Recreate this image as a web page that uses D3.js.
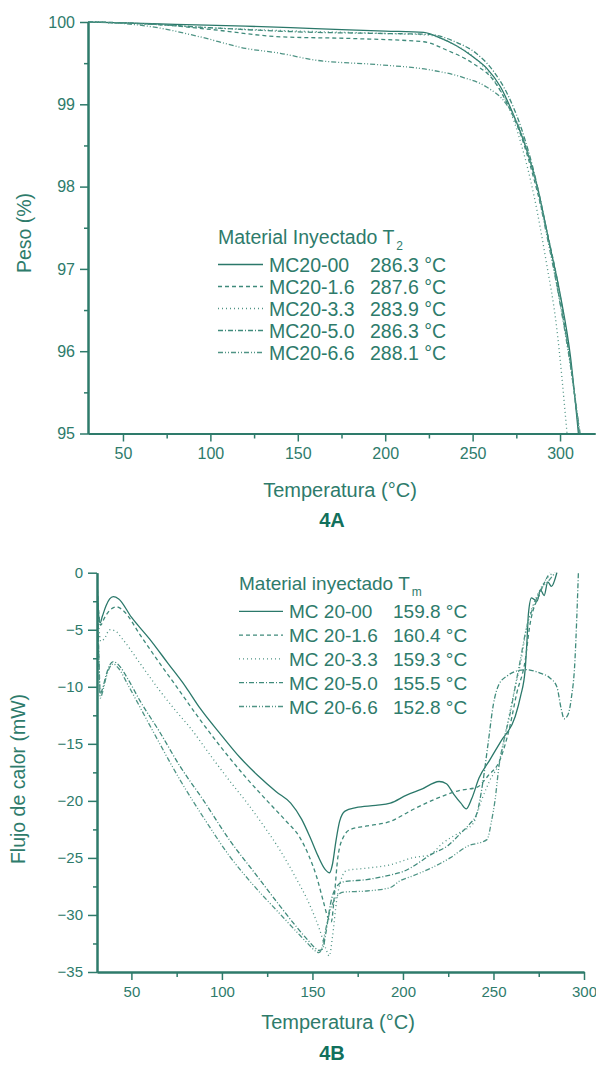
<!DOCTYPE html>
<meta charset="utf-8">
<title>Figura 4A / 4B</title>
<script src="https://d3js.org/d3.v7.min.js"></script>
<style>
	body {
		margin: 0;
		background: #fff;
		font-family: "Liberation Sans", Arial, sans-serif;
	}
	.axis path, .axis line {
		stroke: #2e7b6b;
	}
	.axis path { stroke-width: 2; }
	.axis line { stroke-width: 1.5; }
	.axis text {
		fill: #2e7b6b;
		font-family: "Liberation Sans", Arial, sans-serif;
	}
	.lbl { fill: #2e7b6b; }
	.fig { fill: #11705c; font-weight: bold; }
</style>
<svg id="fig" width="596" height="1066"></svg>
<script>

// ---- 4A : TGA, peso (%) vs temperatura ----
var tgaNames = ["MC20-00", "MC20-1.6", "MC20-3.3", "MC20-5.0", "MC20-6.6"];
var tgaT2 = ["286.3 °C", "287.6 °C", "283.9 °C", "286.3 °C", "288.1 °C"];
var tgaYTicks = [95, 96, 97, 98, 99, 100];
var tgaXTicks = [50, 100, 150, 200, 250, 300];

var tga00 = [[30,100],[50,99.99],[80,99.97],[120,99.95],[160,99.92],[200,99.89],[222,99.875],[232,99.80],[240,99.72],[250,99.58],[258,99.44],[266,99.21],[273,98.89],[281,98.44],[287,98.0],[294,97.3],[300,96.7],[306,95.93],[310.5,95.0]];
var tga16 = [[30,100],[50,99.99],[70,99.97],[100,99.91],[140,99.82],[180,99.80],[222,99.76],[235,99.66],[250,99.50],[262,99.29],[270,99.0],[278,98.6],[285,98.1],[292,97.5],[299,96.8],[305,96.0],[311,95.0]];
var tga33 = [[30,100],[60,99.98],[100,99.93],[150,99.89],[200,99.86],[225,99.84],[240,99.72],[252,99.55],[262,99.3],[270,99.0],[278,98.5],[285,97.9],[292,97.1],[298,96.3],[304,95.0]];
var tga50 = [[30,100],[60,99.98],[100,99.93],[150,99.88],[200,99.86],[225,99.85],[240,99.76],[252,99.62],[262,99.40],[270,99.12],[278,98.7],[286,98.1],[293,97.4],[300,96.6],[306,95.85],[311,95.0]];
var tga66 = [[30,100],[45,99.99],[70,99.93],[94,99.82],[120,99.68],[140,99.62],[159,99.54],[197,99.48],[225,99.42],[244,99.33],[258,99.21],[269,99.01],[277,98.7],[285,98.15],[292,97.45],[299,96.7],[305,95.95],[311.5,95.0]];

// ---- 4B : DSC, flujo de calor (mW) vs temperatura ----
var dscNames = ["MC 20-00", "MC 20-1.6", "MC 20-3.3", "MC 20-5.0", "MC 20-6.6"];
var dscTm = ["159.8 °C", "160.4 °C", "159.3 °C", "155.5 °C", "152.8 °C"];
var dscYTicks = [-35, -30, -25, -20, -15, -10, -5, 0];
var dscXTicks = [50, 100, 150, 200, 250, 300];

var dsc00 = [[31,-0.5],[31.8,-3.5],[32.7,-4.4],[34,-3.8],[36,-2.9],[38,-2.3],[40,-2.1],[43,-2.3],[50,-3.9],[60,-5.8],[70,-7.9],[80,-10.0],[88,-11.9],[100,-14.3],[110,-16.2],[120,-17.8],[130,-19.2],[138,-20.2],[144,-21.6],[149,-23.3],[153,-24.8],[157,-26.0],[159.5,-26.3],[161,-25.6],[163,-23.5],[165,-21.8],[168,-20.9],[174,-20.6],[185,-20.4],[193,-20.2],[202,-19.5],[210,-19.0],[220,-18.3],[224,-18.5],[228,-19.4],[232,-20.2],[235,-20.7],[238,-19.8],[242,-18.0],[248,-16.4],[254,-14.8],[262,-12.6],[265,-10.8],[267.5,-8.5],[268.5,-6],[269.3,-3.6],[271,-2.2],[274,-2.5],[276,-1.5],[278,-2.0],[280,-0.8],[282,-1.2],[285,0]];
var dsc16 = [[31,-0.8],[32,-3.5],[33,-4.6],[35,-4.0],[38,-3.3],[42,-3.0],[46,-3.4],[55,-5.5],[65,-7.8],[75,-10.0],[88,-12.9],[100,-15.4],[113,-17.9],[125,-20.0],[135,-21.7],[143,-23.2],[148,-24.8],[152.4,-26.7],[156,-28.8],[158.5,-30.2],[160.4,-30.6],[162,-28.5],[164,-25.0],[167,-23.2],[171,-22.5],[180,-22.2],[193,-21.8],[205,-20.8],[217,-19.9],[231,-19.1],[241,-18.8],[247,-17.8],[253.6,-16.4],[259,-13.5],[262.8,-10.6],[267.5,-7.7],[270,-4.7],[275.7,-1.8],[281,0]];
var dsc33 = [[31,-1],[32,-4.5],[33,-6.0],[35,-5.8],[38,-5.0],[41,-5.1],[45,-5.8],[55,-8.0],[65,-10.2],[75,-12.2],[82,-13.5],[95,-16.3],[105,-18.4],[114,-20.2],[124,-22.4],[132,-24.3],[140,-26.5],[149,-29.3],[154,-31.3],[157.5,-33.0],[159.3,-33.6],[161,-32.0],[163.4,-28.7],[166,-26.8],[169,-26.1],[180,-25.9],[193,-25.6],[205,-25.0],[215,-24.7],[222,-23.7],[232,-22.7],[238.7,-22.0],[243.5,-19.9],[248,-18.2],[253.6,-16.4],[258,-13],[262,-10],[265.5,-7.5],[268.4,-4.7],[272,-2.8],[276,-1.4],[279,-0.6],[283,0]];
var dsc50 = [[31,-1],[32,-7],[32.8,-10.6],[34,-10.2],[36,-9.0],[38,-8.1],[40,-7.8],[43,-8.1],[48,-9.3],[55,-11.3],[65,-13.8],[77,-17.0],[90,-20.0],[104.5,-23.5],[118,-26.3],[132,-29.2],[142,-31.2],[148,-32.3],[151.5,-32.9],[153.5,-33.1],[155.5,-33.0],[157.5,-31.5],[160,-29.0],[163,-27.6],[167,-27.1],[180,-26.9],[193,-26.5],[200,-26.2],[216.7,-24.6],[225,-23.9],[231.5,-22.9],[237,-22.0],[240.8,-21.1],[244,-18.5],[247,-15.0],[250,-11.5],[253,-9.8],[258,-9.0],[263,-8.6],[268.4,-8.5],[275.7,-8.8],[281,-9.2],[285,-10.0],[287.5,-12.0],[289,-12.8],[291,-12.5],[293,-11],[295,-7.7],[296,-4],[296.9,0]];
var dsc66 = [[31,-1],[32,-7.5],[32.8,-11.0],[34,-10.5],[36,-9.2],[38,-8.3],[40,-8.0],[43,-8.4],[48,-9.8],[54.8,-11.8],[65,-14.8],[77,-18.2],[90,-21.5],[104.5,-24.9],[118,-27.5],[132,-29.9],[142,-31.6],[148,-32.6],[152,-33.2],[153.5,-33.3],[155,-33.0],[157,-31.5],[160,-29.5],[163.4,-28.4],[167,-28.0],[180,-27.9],[193,-27.6],[198.4,-27.0],[205,-26.6],[216.7,-25.8],[226,-25.0],[235.3,-24.0],[246.4,-23.4],[249,-21.7],[250.9,-19.9],[253,-17],[256,-14.5],[259,-12.5],[262,-10.0],[265,-7.5],[268,-5.0],[272,-3.0],[276,-1.5],[280,-0.8],[284,0]];

// estilos de línea (sólida, guiones, puntos, guion-punto, guion-punto-punto)
var dashes = [null, "4,3", "1,3", "5,2,1,2", "5,2,1,2,1,2"];
var strokes = ["#2b786a", "#3f8a7b", "#4f9485", "#3f8a7b", "#4f9485"];

var svg = d3.select("#fig");

function drawPanel(p) {

	var g = svg.append("g");
	var x = p.x, y = p.y;
	var x0 = x.range()[0], y0 = y.range()[0];

	var clipId = "clip" + p.id;
	g.append("clipPath").attr("id", clipId)
		.append("rect")
		.attr("x", x0).attr("y", y.range()[1] - 2)
		.attr("width", x.range()[1] - x0).attr("height", y0 - y.range()[1] + 2);

	var line = d3.line()
		.x(function(d) { return x(d[0]); })
		.y(function(d) { return y(d[1]); })
		.curve(d3.curveMonotoneX);

	// curvas
	g.append("g").attr("clip-path", "url(#" + clipId + ")")
		.selectAll("path")
		.data(p.series)
		.enter().append("path")
		.attr("d", line)
		.attr("fill", "none")
		.attr("stroke", function(d, i) { return strokes[i]; })
		.attr("stroke-width", 1.3)
		.attr("stroke-dasharray", function(d, i) { return dashes[i]; });

	// ejes
	var yMinor = d3.axisLeft(y).tickValues(p.yMinor).tickSize(4).tickSizeOuter(0).tickFormat("");
	var yMajor = d3.axisLeft(y).tickValues(p.yTicks).tickSize(p.tickLen).tickSizeOuter(0).tickPadding(5).tickFormat(d3.format("d"));
	var xMinor = d3.axisBottom(x).tickValues(p.xMinor).tickSize(5).tickSizeOuter(0).tickFormat("");
	var xMajor = d3.axisBottom(x).tickValues(p.xTicks).tickSize(8).tickSizeOuter(0).tickPadding(6).tickFormat(d3.format("d"));

	g.append("g").attr("class", "axis").attr("transform", "translate(" + x0 + ",0)").call(yMinor);
	g.append("g").attr("class", "axis").attr("transform", "translate(" + x0 + ",0)").call(yMajor)
		.selectAll("text").style("font-size", p.yFont + "px");
	g.append("g").attr("class", "axis").attr("transform", "translate(0," + y0 + ")").call(xMinor);
	g.append("g").attr("class", "axis").attr("transform", "translate(0," + y0 + ")").call(xMajor)
		.selectAll("text").style("font-size", p.xFont + "px");

	// títulos de ejes
	g.append("text").attr("class", "lbl")
		.attr("x", p.xTitle[0]).attr("y", p.xTitle[1])
		.attr("text-anchor", "middle").style("font-size", "20px")
		.text("Temperatura (°C)");
	g.append("text").attr("class", "lbl")
		.attr("transform", "translate(" + p.yTitle[0] + "," + p.yTitle[1] + ") rotate(-90)")
		.attr("text-anchor", "middle").style("font-size", "19.5px")
		.text(p.yLabel);
	g.append("text").attr("class", "fig")
		.attr("x", p.fig[0]).attr("y", p.fig[1])
		.attr("text-anchor", "middle").style("font-size", "20px")
		.text(p.figLabel);

	// leyenda
	var L = p.legend;
	var t = g.append("text").attr("class", "lbl")
		.attr("x", L.x).attr("y", L.y).style("font-size", L.font + "px")
		.text(L.title);
	t.append("tspan").attr("dy", 6).attr("dx", 2).style("font-size", "12px").text(L.sub);

	L.names.forEach(function(n, i) {
		var yy = L.y + L.row * (i + 1) + L.first;
		g.append("line")
			.attr("x1", L.x).attr("x2", L.x + L.lineW)
			.attr("y1", yy - 7).attr("y2", yy - 7)
			.attr("stroke", strokes[i]).attr("stroke-width", 1.3)
			.attr("stroke-dasharray", dashes[i]);
		g.append("text").attr("class", "lbl")
			.attr("x", L.nameX).attr("y", yy).style("font-size", L.font + "px")
			.text(n);
		g.append("text").attr("class", "lbl")
			.attr("x", L.valX).attr("y", yy).style("font-size", L.font + "px")
			.text(L.vals[i]);
	});
}

drawPanel({
	id: "A",
	x: d3.scaleLinear().domain([30, 320]).range([88, 595]),
	y: d3.scaleLinear().domain([95, 100]).range([433.5, 22]),
	series: [tga00, tga16, tga33, tga50, tga66],
	yTicks: tgaYTicks,
	yMinor: [95.5, 96.5, 97.5, 98.5, 99.5],
	xTicks: tgaXTicks,
	xMinor: [75, 125, 175, 225, 275],
	tickLen: 8, yFont: 16, xFont: 16,
	xTitle: [340, 497], yTitle: [31, 233], yLabel: "Peso (%)",
	fig: [332, 527], figLabel: "4A",
	legend: { x: 218, y: 244, title: "Material Inyectado T", sub: "2", font: 19.5,
		names: tgaNames, vals: tgaT2, row: 22, first: 5.5, lineW: 45, nameX: 269, valX: 370 }
});

drawPanel({
	id: "B",
	x: d3.scaleLinear().domain([31, 300]).range([97, 584]),
	y: d3.scaleLinear().domain([-35, 0]).range([972, 572.7]),
	series: [dsc00, dsc16, dsc33, dsc50, dsc66],
	yTicks: dscYTicks,
	yMinor: [-32.5, -27.5, -22.5, -17.5, -12.5, -7.5, -2.5],
	xTicks: dscXTicks,
	xMinor: [75, 125, 175, 225, 275],
	tickLen: 9, yFont: 15, xFont: 15,
	xTitle: [338, 1029], yTitle: [25, 779], yLabel: "Flujo de calor (mW)",
	fig: [332, 1060], figLabel: "4B",
	legend: { x: 239, y: 590, title: "Material inyectado T", sub: "m", font: 19,
		names: dscNames, vals: dscTm, row: 23.8, first: 4.5, lineW: 44, nameX: 289, valX: 393 }
});

</script>
